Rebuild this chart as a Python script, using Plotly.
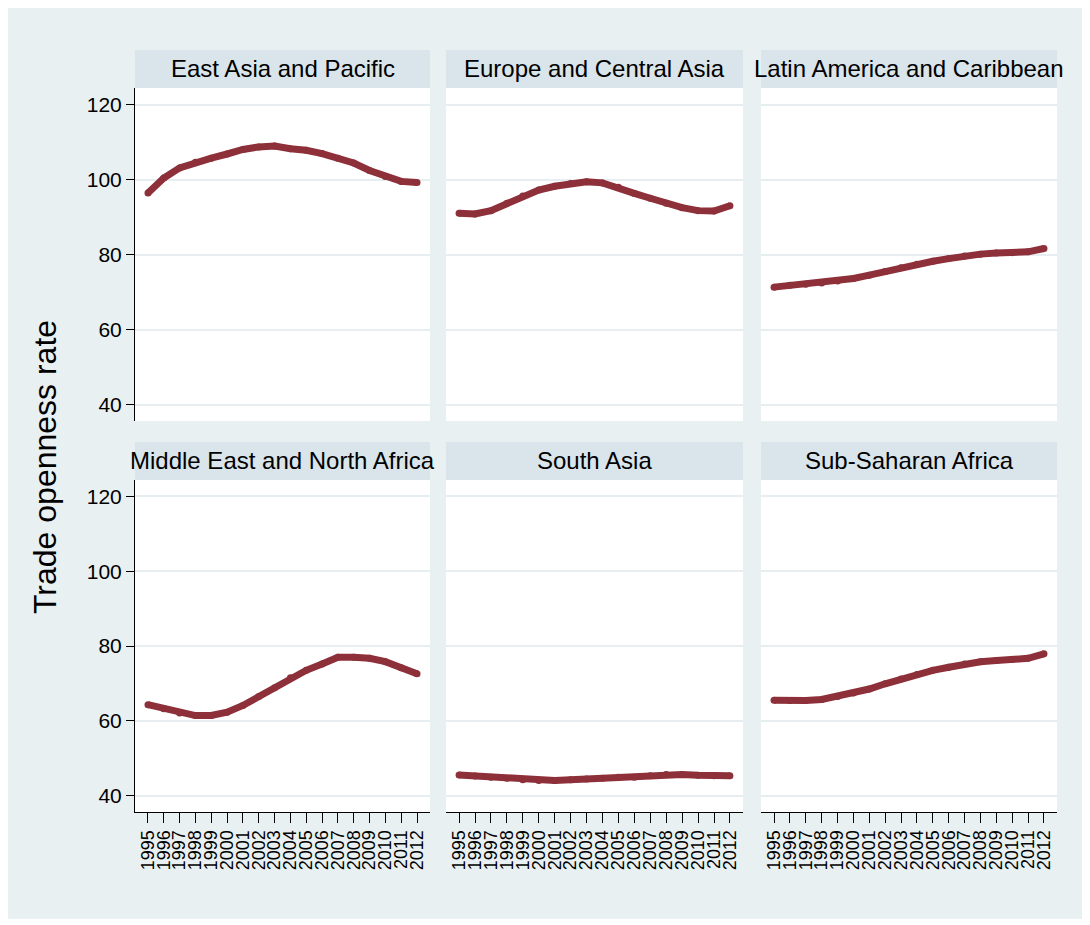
import plotly.graph_objects as go

# Trade openness by region, 1995-2012
years = list(range(1995, 2013))
year_labels = [str(y) for y in years]

regions = [
    "East Asia and Pacific", "Europe and Central Asia", "Latin America and Caribbean",
    "Middle East and North Africa", "South Asia", "Sub-Saharan Africa",
]

east_asia = [96.4, 100.4, 103.1, 104.6, 105.7, 106.8, 108.0, 108.7, 108.9,
             108.2, 107.8, 106.9, 105.7, 104.4, 102.4, 100.8, 99.5, 99.2]
europe = [91.0, 90.8, 91.7, 93.7, 95.6, 97.2, 98.2, 98.9, 99.4,
          99.1, 97.9, 96.3, 95.0, 93.7, 92.5, 91.7, 91.6, 93.0]
latin_america = [71.3, 71.8, 72.1, 72.4, 72.9, 73.6, 74.5, 75.5, 76.5,
                 77.4, 78.2, 78.9, 79.6, 80.1, 80.4, 80.5, 80.7, 81.6]
middle_east = [64.3, 63.2, 62.1, 61.4, 61.4, 62.3, 64.1, 66.5, 68.8,
               71.5, 73.5, 75.2, 77.0, 77.0, 76.7, 75.8, 74.2, 72.6]
south_asia = [45.5, 45.2, 44.9, 44.6, 44.2, 44.0, 44.0, 44.2, 44.4,
              44.6, 44.9, 44.9, 45.3, 45.6, 45.6, 45.4, 45.3, 45.3]
sub_saharan = [65.5, 65.4, 65.4, 65.7, 66.5, 67.4, 68.5, 69.9, 71.2,
               72.4, 73.5, 74.3, 75.2, 75.8, 76.1, 76.4, 76.7, 77.9]

series = [east_asia, europe, latin_america, middle_east, south_asia, sub_saharan]

y_ticks = [40, 60, 80, 100, 120]

# page positions are measured on the screenshot; the html body adds an 8px margin
OFF = 8
W, H = 1090, 925
ML, MT = 135 - OFF, 50 - OFF
MR, MB = W - (1057 - OFF), H - (812 - OFF)
PW, PH = W - ML - MR, H - MT - MB

def px_x(p):
    return (p - OFF - ML) / PW

def px_y(p):
    return (H - MB - (p - OFF)) / PH

col_px = [(135, 430), (446, 743), (761, 1057)]
row_px = [(88, 421), (480, 812)]      # plot area top/bottom
strip_px = [(50, 88), (442, 480)]     # header strip top/bottom

line_col = "#8e3039"
bg_col = "#e9f0f2"
strip_col = "#d9e5eb"
grid_col = "#e6eef1"
font = "Liberation Sans, Arial, sans-serif"

fig = go.Figure()
layout = {}
shapes = []
annotations = []

for i, (name, vals) in enumerate(zip(regions, series)):
    r, c = divmod(i, 3)
    n = i + 1
    xa = "xaxis" if n == 1 else f"xaxis{n}"
    ya = "yaxis" if n == 1 else f"yaxis{n}"
    xr = "x" if n == 1 else f"x{n}"
    yr = "y" if n == 1 else f"y{n}"
    x0, x1 = px_x(col_px[c][0]), px_x(col_px[c][1])
    y_top, y_bot = row_px[r]

    fig.add_trace(go.Scatter(
        x=years, y=vals, xaxis=xr, yaxis=yr, mode="lines+markers",
        line=dict(color=line_col, width=7),
        marker=dict(color=line_col, size=7),
        showlegend=False,
    ))

    bottom = r == 1
    left = c == 0
    layout[xa] = dict(
        domain=[x0, x1], anchor=yr, range=[1994.18, 2012.82],
        tickvals=years, ticktext=year_labels,
        showticklabels=bottom, ticks="outside" if bottom else "",
        ticklen=10, tickcolor="black", tickangle=-90,
        tickfont=dict(size=18, color="black", family=font),
        showline=bottom, linecolor="black", linewidth=1,
        showgrid=False, zeroline=False,
    )
    layout[ya] = dict(
        domain=[px_y(y_bot), px_y(y_top)], anchor=xr, range=[35.6, 124.4],
        tickvals=y_ticks, showticklabels=left,
        ticks="outside" if left else "", ticklen=8, tickcolor="black",
        tickfont=dict(size=21, color="black", family=font),
        showline=left, linecolor="black", linewidth=1,
        showgrid=True, gridcolor=grid_col, gridwidth=2, zeroline=False,
    )

    s_top, s_bot = strip_px[r]
    shapes.append(dict(
        type="rect", xref="paper", yref="paper", layer="below",
        x0=x0, x1=x1, y0=px_y(s_bot), y1=px_y(s_top),
        fillcolor=strip_col, line=dict(width=0),
    ))
    annotations.append(dict(
        text=name, xref="paper", yref="paper", showarrow=False,
        x=(x0 + x1) / 2, y=px_y((s_top + s_bot) / 2),
        xanchor="center", yanchor="middle",
        font=dict(size=24, color="black", family=font),
    ))

# white edge on the right and bottom of the graph region
for (a0, a1, b0, b1) in [(0, W + OFF, 919, H + OFF), (1084, W + OFF, 0, H + OFF)]:
    shapes.append(dict(
        type="rect", xref="paper", yref="paper", layer="below",
        x0=px_x(a0), x1=px_x(a1), y0=px_y(b1), y1=px_y(b0),
        fillcolor="white", line=dict(width=0),
    ))

annotations.append(dict(
    text="Trade openness rate", xref="paper", yref="paper", showarrow=False,
    x=px_x(45), y=px_y(467), textangle=-90, xanchor="center", yanchor="middle",
    font=dict(size=32, color="black", family=font),
))

fig.update_layout(
    width=W, height=H,
    margin=dict(l=ML, r=MR, t=MT, b=MB),
    paper_bgcolor=bg_col, plot_bgcolor="white",
    shapes=shapes, annotations=annotations,
    font=dict(family=font, color="black"),
    **layout,
)

fig.write_html("out.html")
